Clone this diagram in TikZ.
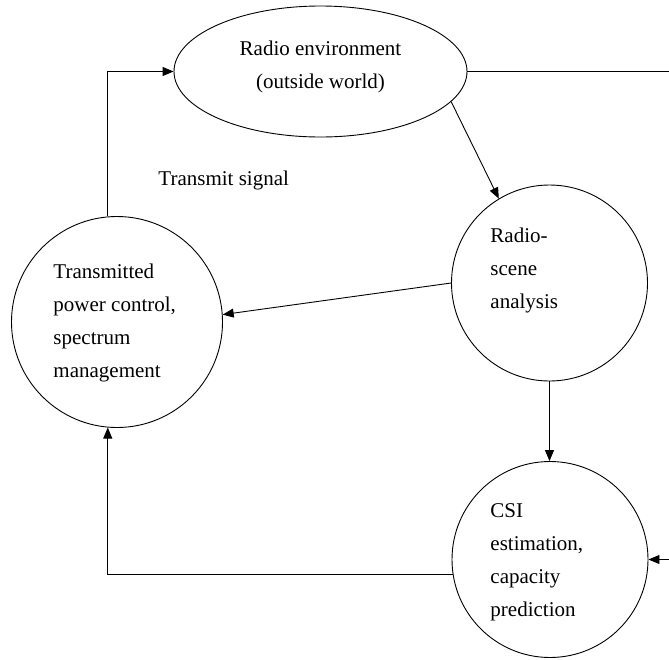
\documentclass[tikz,border=0pt]{standalone}
\usepackage{fontspec}
\setmainfont{Liberation Serif}
\usetikzlibrary{shapes.geometric,arrows.meta}
\begin{document}
\begin{tikzpicture}[x=1pt,y=-1pt, line width=0.9pt,
  conn/.style={-{Triangle[length=11pt,width=9pt]}},
  txt/.style={font=\fontsize{21}{33}\selectfont, align=left, inner sep=0pt},
  bub/.style={draw, circle, inner sep=0pt}]
\useasboundingbox (0,0) rectangle (669,659);
\node[bub, minimum size=211pt] (tpc) at (117,322) {};
\node[bub, minimum size=196pt] (rsa) at (549.5,283) {};
\node[bub, minimum size=196pt] (csi) at (550,559.5) {};
\node[draw, ellipse, minimum width=293pt, minimum height=131pt, inner sep=0pt] (env) at (320.5,71.5) {};
\node[txt, anchor=base west] (tpct) at (53,377) {Transmitted\\power control,\\spectrum\\management};
\node[txt, anchor=base west] (rsat) at (490,308) {Radio-\\scene\\analysis};
\node[txt, anchor=base west] (csit) at (490,616) {CSI\\estimation,\\capacity\\prediction};
\node[txt, align=center, anchor=base] (envt) at (320.5,88) {Radio environment\\(outside world)};
\node[txt, anchor=base west] (sig) at (158,185) {Transmit signal};
\coordinate (rout) at (669,71.5);
\coordinate (rin) at (669,559.5);
\draw[conn] (tpc.95) |- (env.west);
\draw (env.east) -- (rout);
\draw[conn] (env.-13.6) -- (rsa.121);
\draw[conn] (rsa.west) -- (tpc.4.3);
\draw[conn] (rsa.south) -- (rsa.south |- csi.north);
\draw[conn] (csi.189.7) -| (tpc.265);
\draw[conn] (rin) -- (csi.east);
\end{tikzpicture}
\end{document}
